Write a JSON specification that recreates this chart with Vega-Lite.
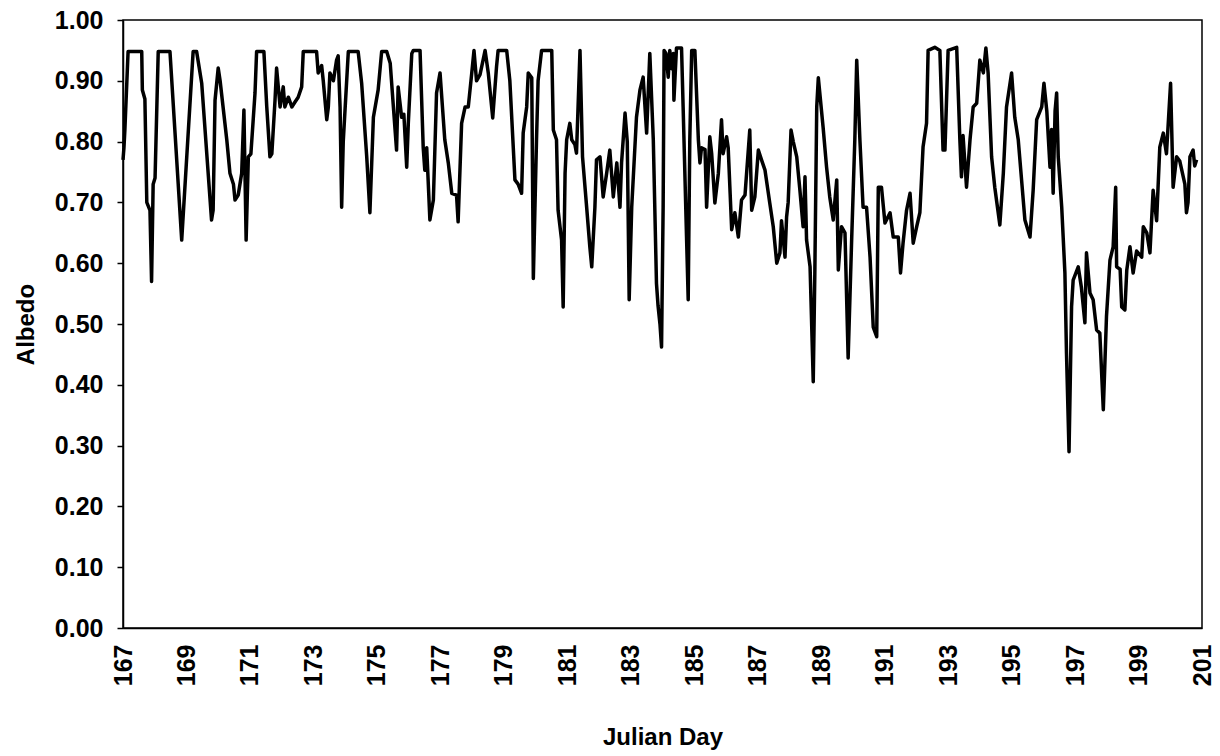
{
"$schema": "https://vega.github.io/schema/vega-lite/v6.json",
"autosize": {"type": "none"},
"padding": {"left": 123, "top": 20, "right": 18, "bottom": 128},
"width": 1079,
"height": 608,
"background": "white",
"config": {
  "view": {"stroke": "black", "strokeWidth": 1.5},
  "font": "Liberation Sans",
  "axis": {"grid": false, "domainColor": "black", "domainWidth": 1.5, "tickColor": "black", "labelColor": "black", "titleColor": "black", "labelFont": "Liberation Sans", "titleFont": "Liberation Sans", "labelFontSize": 25, "labelFontWeight": "bold", "titleFontSize": 24, "titleFontWeight": "bold"}
},
"data": {"values": [
{"d":167.00,"a":0.77},{"d":167.03,"a":0.79},{"d":167.06,"a":0.82},{"d":167.16,"a":0.948},{"d":167.59,"a":0.948},{"d":167.61,"a":0.885},{"d":167.69,"a":0.87},{"d":167.75,"a":0.70},{"d":167.85,"a":0.687},{"d":167.90,"a":0.57},{"d":167.95,"a":0.73},{"d":168.01,"a":0.74},{"d":168.11,"a":0.948},{"d":168.48,"a":0.948},{"d":168.85,"a":0.638},{"d":169.21,"a":0.948},{"d":169.32,"a":0.948},{"d":169.48,"a":0.896},{"d":169.79,"a":0.671},{"d":169.84,"a":0.687},{"d":169.90,"a":0.868},{"d":170.00,"a":0.921},{"d":170.06,"a":0.90},{"d":170.27,"a":0.803},{"d":170.37,"a":0.748},{"d":170.48,"a":0.73},{"d":170.53,"a":0.704},{"d":170.63,"a":0.712},{"d":170.74,"a":0.748},{"d":170.81,"a":0.852},{"d":170.88,"a":0.638},{"d":170.95,"a":0.775},{"d":171.03,"a":0.78},{"d":171.16,"a":0.88},{"d":171.21,"a":0.948},{"d":171.44,"a":0.948},{"d":171.53,"a":0.857},{"d":171.63,"a":0.775},{"d":171.69,"a":0.78},{"d":171.79,"a":0.868},{"d":171.84,"a":0.921},{"d":171.95,"a":0.857},{"d":172.05,"a":0.89},{"d":172.10,"a":0.857},{"d":172.21,"a":0.873},{"d":172.32,"a":0.857},{"d":172.42,"a":0.865},{"d":172.52,"a":0.873},{"d":172.63,"a":0.89},{"d":172.68,"a":0.948},{"d":173.10,"a":0.948},{"d":173.15,"a":0.913},{"d":173.26,"a":0.925},{"d":173.31,"a":0.90},{"d":173.42,"a":0.836},{"d":173.47,"a":0.857},{"d":173.52,"a":0.913},{"d":173.63,"a":0.90},{"d":173.73,"a":0.934},{"d":173.78,"a":0.941},{"d":173.84,"a":0.857},{"d":173.89,"a":0.692},{"d":173.94,"a":0.80},{"d":174.10,"a":0.948},{"d":174.41,"a":0.948},{"d":174.52,"a":0.896},{"d":174.68,"a":0.775},{"d":174.78,"a":0.683},{"d":174.89,"a":0.84},{"d":175.04,"a":0.885},{"d":175.15,"a":0.948},{"d":175.31,"a":0.948},{"d":175.42,"a":0.929},{"d":175.52,"a":0.857},{"d":175.62,"a":0.786},{"d":175.67,"a":0.89},{"d":175.78,"a":0.84},{"d":175.85,"a":0.845},{"d":175.94,"a":0.758},{"d":175.99,"a":0.83},{"d":176.10,"a":0.945},{"d":176.15,"a":0.95},{"d":176.36,"a":0.95},{"d":176.46,"a":0.79},{"d":176.51,"a":0.753},{"d":176.57,"a":0.79},{"d":176.67,"a":0.671},{"d":176.78,"a":0.704},{"d":176.88,"a":0.88},{"d":176.99,"a":0.913},{"d":177.14,"a":0.803},{"d":177.25,"a":0.765},{"d":177.36,"a":0.715},{"d":177.51,"a":0.712},{"d":177.56,"a":0.668},{"d":177.67,"a":0.83},{"d":177.78,"a":0.857},{"d":177.88,"a":0.857},{"d":177.99,"a":0.913},{"d":178.06,"a":0.95},{"d":178.14,"a":0.90},{"d":178.25,"a":0.91},{"d":178.41,"a":0.95},{"d":178.51,"a":0.913},{"d":178.65,"a":0.839},{"d":178.77,"a":0.923},{"d":178.82,"a":0.95},{"d":179.09,"a":0.95},{"d":179.19,"a":0.90},{"d":179.35,"a":0.737},{"d":179.45,"a":0.73},{"d":179.56,"a":0.715},{"d":179.61,"a":0.814},{"d":179.72,"a":0.857},{"d":179.77,"a":0.913},{"d":179.88,"a":0.905},{"d":179.93,"a":0.575},{"d":180.03,"a":0.803},{"d":180.08,"a":0.90},{"d":180.19,"a":0.95},{"d":180.51,"a":0.95},{"d":180.56,"a":0.819},{"d":180.66,"a":0.803},{"d":180.71,"a":0.687},{"d":180.82,"a":0.638},{"d":180.87,"a":0.528},{"d":180.93,"a":0.748},{"d":180.98,"a":0.803},{"d":181.08,"a":0.83},{"d":181.14,"a":0.803},{"d":181.24,"a":0.795},{"d":181.29,"a":0.781},{"d":181.40,"a":0.95},{"d":181.48,"a":0.775},{"d":181.61,"a":0.692},{"d":181.71,"a":0.627},{"d":181.77,"a":0.594},{"d":181.87,"a":0.692},{"d":181.92,"a":0.77},{"d":182.03,"a":0.775},{"d":182.13,"a":0.709},{"d":182.24,"a":0.748},{"d":182.34,"a":0.786},{"d":182.45,"a":0.709},{"d":182.56,"a":0.765},{"d":182.66,"a":0.692},{"d":182.71,"a":0.765},{"d":182.82,"a":0.847},{"d":182.89,"a":0.80},{"d":182.95,"a":0.54},{"d":183.03,"a":0.692},{"d":183.18,"a":0.84},{"d":183.29,"a":0.885},{"d":183.39,"a":0.906},{"d":183.50,"a":0.814},{"d":183.60,"a":0.945},{"d":183.71,"a":0.803},{"d":183.81,"a":0.567},{"d":183.86,"a":0.53},{"d":183.92,"a":0.50},{"d":183.97,"a":0.462},{"d":184.02,"a":0.692},{"d":184.05,"a":0.95},{"d":184.11,"a":0.945},{"d":184.18,"a":0.906},{"d":184.23,"a":0.95},{"d":184.29,"a":0.92},{"d":184.34,"a":0.945},{"d":184.36,"a":0.868},{"d":184.44,"a":0.954},{"d":184.60,"a":0.954},{"d":184.65,"a":0.857},{"d":184.76,"a":0.638},{"d":184.81,"a":0.54},{"d":184.86,"a":0.803},{"d":184.92,"a":0.95},{"d":185.02,"a":0.95},{"d":185.13,"a":0.803},{"d":185.18,"a":0.765},{"d":185.23,"a":0.79},{"d":185.34,"a":0.787},{"d":185.39,"a":0.692},{"d":185.49,"a":0.808},{"d":185.55,"a":0.78},{"d":185.65,"a":0.699},{"d":185.76,"a":0.748},{"d":185.86,"a":0.836},{"d":185.91,"a":0.78},{"d":186.02,"a":0.808},{"d":186.07,"a":0.79},{"d":186.18,"a":0.655},{"d":186.28,"a":0.683},{"d":186.39,"a":0.643},{"d":186.49,"a":0.704},{"d":186.60,"a":0.712},{"d":186.65,"a":0.748},{"d":186.75,"a":0.819},{"d":186.81,"a":0.687},{"d":186.91,"a":0.709},{"d":187.02,"a":0.786},{"d":187.12,"a":0.77},{"d":187.23,"a":0.753},{"d":187.38,"a":0.699},{"d":187.49,"a":0.66},{"d":187.60,"a":0.60},{"d":187.70,"a":0.617},{"d":187.75,"a":0.67},{"d":187.86,"a":0.61},{"d":187.91,"a":0.676},{"d":187.96,"a":0.70},{"d":188.05,"a":0.819},{"d":188.12,"a":0.80},{"d":188.23,"a":0.775},{"d":188.33,"a":0.72},{"d":188.43,"a":0.66},{"d":188.49,"a":0.742},{"d":188.54,"a":0.638},{"d":188.65,"a":0.594},{"d":188.75,"a":0.405},{"d":188.80,"a":0.584},{"d":188.86,"a":0.857},{"d":188.91,"a":0.905},{"d":189.06,"a":0.824},{"d":189.17,"a":0.758},{"d":189.27,"a":0.709},{"d":189.38,"a":0.671},{"d":189.49,"a":0.737},{"d":189.54,"a":0.589},{"d":189.64,"a":0.66},{"d":189.75,"a":0.65},{"d":189.85,"a":0.444},{"d":189.96,"a":0.638},{"d":190.06,"a":0.803},{"d":190.12,"a":0.934},{"d":190.22,"a":0.803},{"d":190.32,"a":0.692},{"d":190.43,"a":0.692},{"d":190.54,"a":0.61},{"d":190.64,"a":0.495},{"d":190.75,"a":0.479},{"d":190.80,"a":0.725},{"d":190.90,"a":0.725},{"d":191.01,"a":0.666},{"d":191.17,"a":0.683},{"d":191.27,"a":0.643},{"d":191.43,"a":0.643},{"d":191.50,"a":0.584},{"d":191.58,"a":0.633},{"d":191.69,"a":0.687},{"d":191.80,"a":0.715},{"d":191.90,"a":0.633},{"d":192.01,"a":0.66},{"d":192.11,"a":0.683},{"d":192.21,"a":0.791},{"d":192.32,"a":0.83},{"d":192.37,"a":0.95},{"d":192.58,"a":0.955},{"d":192.74,"a":0.95},{"d":192.84,"a":0.786},{"d":192.90,"a":0.786},{"d":193.00,"a":0.95},{"d":193.27,"a":0.955},{"d":193.37,"a":0.803},{"d":193.42,"a":0.742},{"d":193.47,"a":0.81},{"d":193.58,"a":0.725},{"d":193.69,"a":0.803},{"d":193.79,"a":0.857},{"d":193.90,"a":0.863},{"d":194.00,"a":0.934},{"d":194.11,"a":0.913},{"d":194.19,"a":0.954},{"d":194.26,"a":0.913},{"d":194.37,"a":0.775},{"d":194.47,"a":0.725},{"d":194.63,"a":0.663},{"d":194.74,"a":0.748},{"d":194.84,"a":0.857},{"d":195.00,"a":0.913},{"d":195.10,"a":0.84},{"d":195.21,"a":0.803},{"d":195.42,"a":0.671},{"d":195.58,"a":0.643},{"d":195.68,"a":0.72},{"d":195.79,"a":0.836},{"d":195.95,"a":0.857},{"d":196.02,"a":0.896},{"d":196.11,"a":0.85},{"d":196.21,"a":0.758},{"d":196.26,"a":0.82},{"d":196.31,"a":0.715},{"d":196.37,"a":0.85},{"d":196.42,"a":0.88},{"d":196.47,"a":0.775},{"d":196.58,"a":0.692},{"d":196.68,"a":0.584},{"d":196.73,"a":0.452},{"d":196.81,"a":0.29},{"d":196.89,"a":0.528},{"d":196.94,"a":0.572},{"d":197.10,"a":0.594},{"d":197.20,"a":0.56},{"d":197.31,"a":0.502},{"d":197.36,"a":0.617},{"d":197.47,"a":0.551},{"d":197.57,"a":0.54},{"d":197.68,"a":0.49},{"d":197.78,"a":0.485},{"d":197.89,"a":0.359},{"d":197.99,"a":0.512},{"d":198.10,"a":0.605},{"d":198.20,"a":0.627},{"d":198.28,"a":0.725},{"d":198.31,"a":0.594},{"d":198.42,"a":0.59},{"d":198.47,"a":0.528},{"d":198.57,"a":0.523},{"d":198.63,"a":0.589},{"d":198.73,"a":0.627},{"d":198.83,"a":0.584},{"d":198.94,"a":0.62},{"d":199.10,"a":0.61},{"d":199.15,"a":0.66},{"d":199.26,"a":0.65},{"d":199.36,"a":0.617},{"d":199.46,"a":0.72},{"d":199.57,"a":0.67},{"d":199.67,"a":0.791},{"d":199.78,"a":0.814},{"d":199.88,"a":0.78},{"d":200.01,"a":0.896},{"d":200.09,"a":0.725},{"d":200.20,"a":0.775},{"d":200.30,"a":0.768},{"d":200.46,"a":0.73},{"d":200.51,"a":0.683},{"d":200.56,"a":0.70},{"d":200.62,"a":0.775},{"d":200.72,"a":0.786},{"d":200.77,"a":0.76},{"d":200.83,"a":0.77}
]},
"mark": {"type": "line", "color": "black", "strokeWidth": 3.5, "strokeJoin": "round"},
"encoding": {
  "x": {"field": "d", "type": "quantitative", "title": "Julian Day",
        "scale": {"domain": [167, 201], "nice": false, "zero": false},
        "axis": {"values": [167,169,171,173,175,177,179,181,183,185,187,189,191,193,195,197,199,201], "format": "d", "labelAngle": -90, "ticks": false, "labelPadding": 16, "titlePadding": 40, "labelFlush": false, "labelOverlap": false}},
  "y": {"field": "a", "type": "quantitative", "title": "Albedo",
        "scale": {"domain": [0, 1], "nice": false},
        "axis": {"values": [0,0.1,0.2,0.3,0.4,0.5,0.6,0.7,0.8,0.9,1.0], "format": ".2f", "tickSize": 6, "tickWidth": 1.5, "labelPadding": 14, "titlePadding": 16, "labelFlush": false, "labelOverlap": false}}
}
}
